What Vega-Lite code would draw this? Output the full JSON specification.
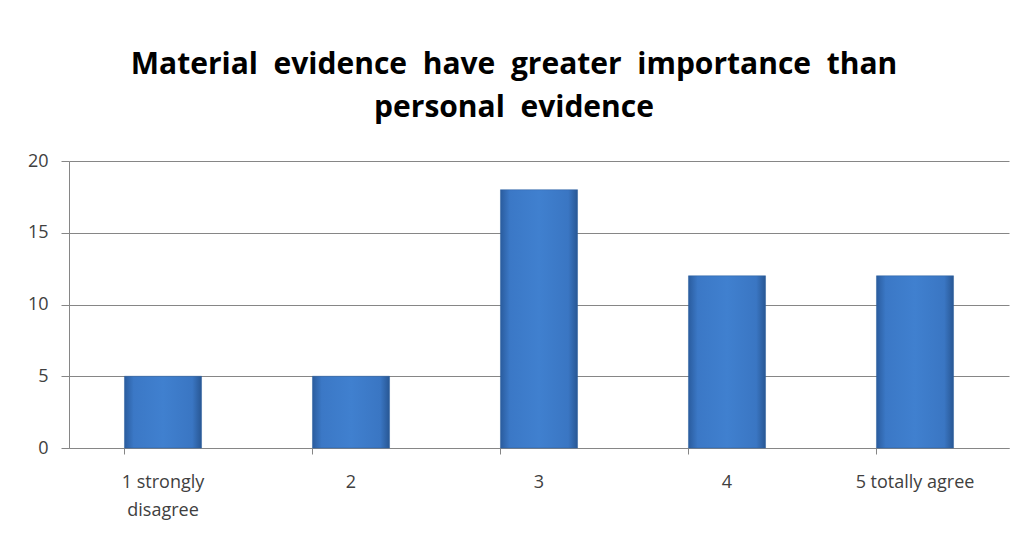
{
  "$schema": "https://vega.github.io/schema/vega-lite/v6.json",
  "autosize": "none",
  "width": 940,
  "height": 287,
  "padding": {"left": 69, "top": 161, "right": 21, "bottom": 86},
  "background": "white",
  "title": {
    "text": ["Material\u00a0 evidence\u00a0 have\u00a0 greater\u00a0 importance\u00a0 than", "personal\u00a0 evidence"],
    "font": "Open Sans",
    "fontSize": 30,
    "fontWeight": "bold",
    "color": "#000000",
    "anchor": "middle",
    "dx": -25,
    "offset": 29,
    "lineHeight": 43
  },
  "data": {
    "values": [
      {"category": "1 strongly disagree", "value": 5},
      {"category": "2", "value": 5},
      {"category": "3", "value": 18},
      {"category": "4", "value": 12},
      {"category": "5 totally agree", "value": 12}
    ]
  },
  "mark": {
    "type": "bar",
    "fill": {
      "gradient": "linear",
      "x1": 0, "y1": 0, "x2": 1, "y2": 0,
      "stops": [
        {"offset": 0, "color": "#2a5c9e"},
        {"offset": 0.12, "color": "#3b78c6"},
        {"offset": 0.5, "color": "#4080cf"},
        {"offset": 0.88, "color": "#3a76c3"},
        {"offset": 1, "color": "#285794"}
      ]
    },
    "stroke": "#2b5f9f",
    "strokeWidth": 0.5
  },
  "encoding": {
    "x": {
      "field": "category",
      "type": "nominal",
      "sort": null,
      "scale": {"paddingInner": 0.59, "paddingOuter": 0.295},
      "axis": {
        "title": null,
        "labelAngle": 0,
        "labelFont": "Open Sans",
        "labelFontSize": 18,
        "labelColor": "#404040",
        "labelBaseline": "top",
        "labelPadding": 19,
        "labelLineHeight": 28,
        "labelExpr": "datum.value == '1 strongly disagree' ? ['1 strongly', 'disagree'] : datum.value",
        "bandPosition": 0,
        "tickSize": 6,
        "tickColor": "#868686",
        "domainColor": "#868686",
        "grid": false
      }
    },
    "y": {
      "field": "value",
      "type": "quantitative",
      "scale": {"domain": [0, 20]},
      "axis": {
        "title": null,
        "values": [0, 5, 10, 15, 20],
        "labelFont": "Open Sans",
        "labelFontSize": 18,
        "labelColor": "#404040",
        "labelPadding": 13,
        "tickSize": 8,
        "tickColor": "#868686",
        "domainColor": "#868686",
        "gridColor": "#868686",
        "gridWidth": 1
      }
    }
  },
  "config": {
    "view": {"stroke": null}
  }
}
